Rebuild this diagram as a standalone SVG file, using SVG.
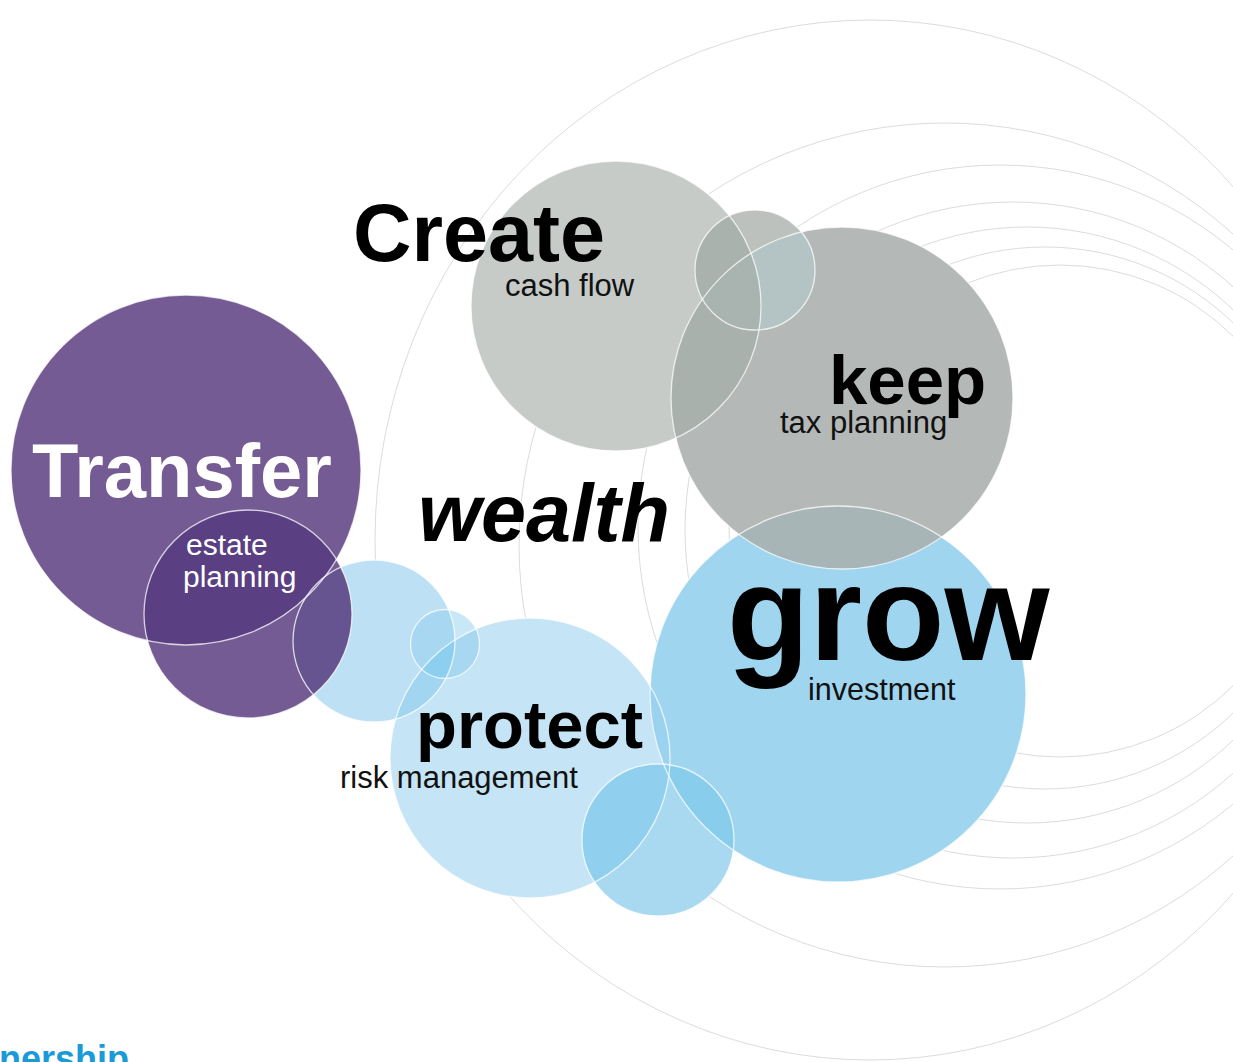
<svg xmlns="http://www.w3.org/2000/svg" width="1233" height="1062" viewBox="0 0 1233 1062">
<style>
.ring{fill:none;stroke:#dcdcdc;stroke-width:1}
.edge{fill:none;stroke:#ffffff;stroke-opacity:0.75;stroke-width:1.3}
.big{font-family:"Liberation Sans",Arial,sans-serif;font-weight:bold;fill:#000}
.sub{font-family:"Liberation Sans",Arial,sans-serif;font-weight:normal;fill:#111}
</style>
<defs>
<clipPath id="cT"><circle cx="186" cy="470" r="175"/></clipPath>
<clipPath id="cE"><circle cx="248" cy="614" r="104"/></clipPath>
<clipPath id="cLB"><circle cx="374" cy="641" r="81"/></clipPath>
<clipPath id="cSB"><circle cx="445" cy="644" r="34.5"/></clipPath>
<clipPath id="cP"><circle cx="530" cy="758" r="140"/></clipPath>
<clipPath id="cG"><circle cx="838" cy="694" r="188"/></clipPath>
<clipPath id="cK"><circle cx="842" cy="398" r="171"/></clipPath>
<clipPath id="cC"><circle cx="616" cy="306" r="145"/></clipPath>
<clipPath id="cST"><circle cx="755" cy="270" r="60"/></clipPath>
</defs>
<rect width="1233" height="1062" fill="#ffffff"/>
<g id="rings">
<ellipse class="ring" cx="870" cy="540" rx="495" ry="520"/>
<ellipse class="ring" cx="945" cy="545" rx="426" ry="422"/>
<circle class="ring" cx="1000" cy="527" r="362"/>
<circle class="ring" cx="1013" cy="530" r="328"/>
<circle class="ring" cx="1027" cy="525" r="298"/>
<circle class="ring" cx="1045" cy="518" r="271"/>
<circle class="ring" cx="1060" cy="511" r="246"/>
</g>
<g id="transfer">
<circle cx="186" cy="470" r="175" fill="#745b93"/>
</g>
<g id="estate">
<circle cx="248" cy="614" r="104" fill="#745b93"/>
</g>
<g id="left-blue">
<circle cx="374" cy="641" r="81" fill="#bde0f4"/>
</g>
<g id="protect">
<circle cx="530" cy="758" r="140" fill="#c5e4f6"/>
</g>
<g id="small-blue">
<circle cx="445" cy="644" r="34.5" fill="#c8e7f7"/>
</g>
<g id="grow">
<circle cx="838" cy="694" r="188" fill="#a0d5f0"/>
</g>
<g id="bottom-blue">
<circle cx="658" cy="840" r="76" fill="#a8d9f1"/>
</g>
<g id="create">
<circle cx="616" cy="306" r="145" fill="#c6cbc8"/>
</g>
<g id="keep">
<circle cx="842" cy="398" r="171" fill="#b4b8b6"/>
</g>
<g id="small-gray">
<circle cx="755" cy="270" r="60" fill="#bcc1be"/>
</g>
<g id="overlaps">
<circle cx="248" cy="614" r="104" fill="#5a3f83" clip-path="url(#cT)"/>
<circle cx="374" cy="641" r="81" fill="#655490" clip-path="url(#cE)"/>
<circle cx="374" cy="641" r="81" fill="#a2d5f0" clip-path="url(#cP)"/>
<circle cx="445" cy="644" r="34.5" fill="#a8d8f1" clip-path="url(#cLB)"/>
<circle cx="445" cy="644" r="34.5" fill="#a8d8f1" clip-path="url(#cP)"/>
<g clip-path="url(#cLB)"><circle cx="445" cy="644" r="34.5" fill="#8dcfee" clip-path="url(#cP)"/></g>
<circle cx="838" cy="694" r="188" fill="#9bd2ef" clip-path="url(#cP)"/>
<circle cx="658" cy="840" r="76" fill="#90cfee" clip-path="url(#cP)"/>
<circle cx="658" cy="840" r="76" fill="#88cdec" clip-path="url(#cG)"/>
<circle cx="842" cy="398" r="171" fill="#a7b5b7" clip-path="url(#cG)"/>
<circle cx="842" cy="398" r="171" fill="#a9b1ad" clip-path="url(#cC)"/>
<circle cx="755" cy="270" r="60" fill="#aab2ae" clip-path="url(#cC)"/>
<circle cx="755" cy="270" r="60" fill="#b4c4c5" clip-path="url(#cK)"/>
<g clip-path="url(#cC)"><circle cx="755" cy="270" r="60" fill="#a9b3af" clip-path="url(#cK)"/></g>
</g>
<g id="edges">
<circle class="edge" cx="186" cy="470" r="175" stroke-opacity="0.35"/>
<circle class="edge" cx="248" cy="614" r="104"/>
<circle class="edge" cx="374" cy="641" r="81"/>
<circle class="edge" cx="445" cy="644" r="34.5"/>
<circle class="edge" cx="530" cy="758" r="140"/>
<circle class="edge" cx="838" cy="694" r="188"/>
<circle class="edge" cx="658" cy="840" r="76"/>
<circle class="edge" cx="616" cy="306" r="145"/>
<circle class="edge" cx="842" cy="398" r="171"/>
<circle class="edge" cx="755" cy="270" r="60"/>
</g>
<g id="labels">
<text class="big" x="353" y="261" font-size="81">Create</text>
<text class="sub" x="505" y="296" font-size="31">cash flow</text>
<text class="big" x="829" y="404" font-size="69">keep</text>
<text class="sub" x="780" y="433" font-size="31">tax planning</text>
<text class="big" x="32" y="497" font-size="76" style="fill:#ffffff">Transfer</text>
<text class="sub" x="186" y="555" font-size="30" style="fill:#ffffff">estate</text>
<text class="sub" x="183" y="587" font-size="30" style="fill:#ffffff">planning</text>
<text class="big" x="418" y="541" font-size="81" font-style="italic">wealth</text>
<text class="big" x="727" y="660" font-size="135">grow</text>
<text class="sub" x="808" y="700" font-size="30.5">investment</text>
<text class="big" x="416" y="748" font-size="67">protect</text>
<text class="sub" x="340" y="788" font-size="31">risk management</text>
<text class="big" x="-1" y="1071" font-size="36" style="fill:#1a9bd7">nership</text>
</g>
</svg>
